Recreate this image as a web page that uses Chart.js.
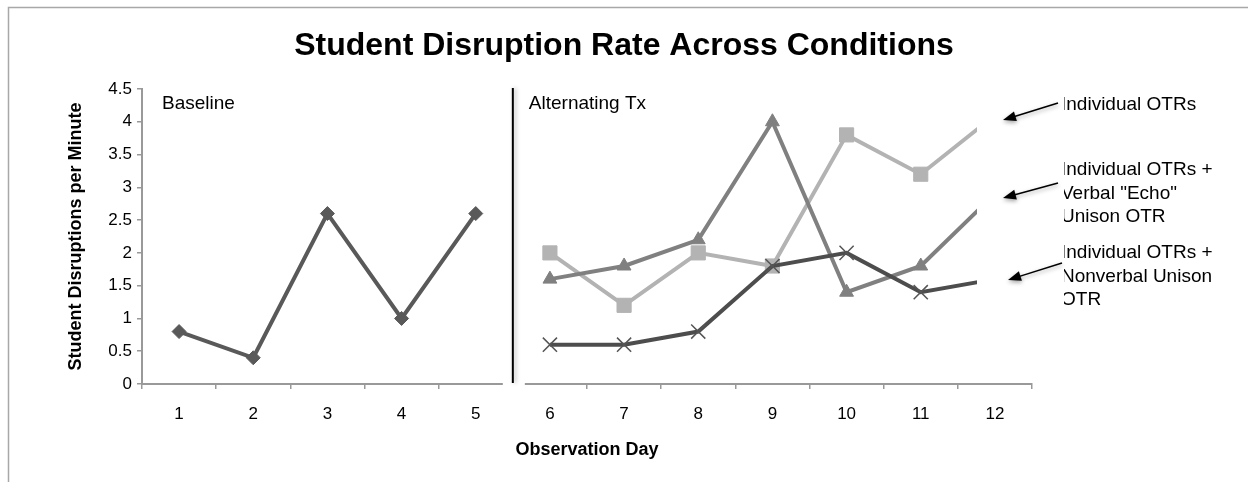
<!DOCTYPE html>
<html>
<head>
<meta charset="utf-8">
<script src="https://cdn.jsdelivr.net/npm/chart.js@4.4.1/dist/chart.umd.min.js"></script>
<style>
    html, body { margin: 0; padding: 0; background: #ffffff; }
    #wrap { width: 1248px; height: 482px; position: relative; }
</style>
</head>
<body>
<div id="wrap"><canvas id="chart"></canvas></div>
<script>
// ===============================
// Data
// ===============================
const days = ["1", "2", "3", "4", "5", "6", "7", "8", "9", "10", "11", "12"];

const baseline      = [0.8, 0.4, 2.6, 1.0, 2.6, null, null, null, null, null, null, null];
const individualOtr = [null, null, null, null, null, 2.0, 1.2, 2.0, 1.8, 3.8, 3.2, 4.1];
const verbalEcho    = [null, null, null, null, null, 1.6, 1.8, 2.2, 4.0, 1.4, 1.8, 2.9];
const nonverbal     = [null, null, null, null, null, 0.6, 0.6, 0.8, 1.8, 2.0, 1.4, 1.6];

const phaseLabels = ["Baseline", "Alternating Tx"];

const seriesNotes = [
    ["Individual OTRs"],
    ["Individual OTRs +", "Verbal \"Echo\"", "Unison OTR"],
    ["Individual OTRs +", "Nonverbal Unison", "OTR"]
];

const FONT = "'Liberation Sans', Arial, Helvetica, sans-serif";

// ===============================
// Phase line, text boxes, arrows
// ===============================
function drawArrow(ctx, x1, y1, x2, y2) {
    const ang = Math.atan2(y2 - y1, x2 - x1);
    const head = 13;
    ctx.save();
    ctx.shadowColor = "rgba(0,0,0,0.35)";
    ctx.shadowBlur = 4;
    ctx.shadowOffsetY = 2;
    ctx.strokeStyle = "#000";
    ctx.fillStyle = "#000";
    ctx.lineWidth = 1.5;
    ctx.beginPath();
    ctx.moveTo(x1, y1);
    ctx.lineTo(x2 - Math.cos(ang) * head * 0.8, y2 - Math.sin(ang) * head * 0.8);
    ctx.stroke();
    ctx.beginPath();
    ctx.moveTo(x2, y2);
    ctx.lineTo(x2 - Math.cos(ang) * head + Math.sin(ang) * 5, y2 - Math.sin(ang) * head - Math.cos(ang) * 5);
    ctx.lineTo(x2 - Math.cos(ang) * head - Math.sin(ang) * 5, y2 - Math.sin(ang) * head + Math.cos(ang) * 5);
    ctx.closePath();
    ctx.fill();
    ctx.restore();
}

const overlay = {
    id: "overlay",
    afterDatasetsDraw(chart) {
        const { ctx, chartArea, scales } = chart;
        const x = scales.x;
        const y = scales.y;
        const phaseX = (x.getPixelForValue(4) + x.getPixelForValue(5)) / 2;

        ctx.save();

        // white text boxes on the right hide the ends of the lines
        ctx.fillStyle = "#ffffff";
        ctx.fillRect(chartArea.right - 55, chartArea.top - 2, 1248, 222);

        // gap in the x axis around the phase line
        ctx.fillRect(phaseX - 10, chartArea.bottom - 4, 22, 12);

        // phase change line
        ctx.save();
        ctx.shadowColor = "rgba(0,0,0,0.3)";
        ctx.shadowBlur = 4;
        ctx.shadowOffsetX = 2;
        ctx.strokeStyle = "#000";
        ctx.lineWidth = 2;
        ctx.beginPath();
        ctx.moveTo(phaseX, chartArea.top - 1);
        ctx.lineTo(phaseX, chartArea.bottom - 1);
        ctx.stroke();
        ctx.restore();

        // phase labels
        ctx.fillStyle = "#000";
        ctx.font = "19px " + FONT;
        ctx.textBaseline = "middle";
        ctx.textAlign = "left";
        ctx.fillText(phaseLabels[0], chartArea.left + 20, y.getPixelForValue(4.27));
        ctx.fillText(phaseLabels[1], phaseX + 16, y.getPixelForValue(4.27));

        // series notes (text boxes clipped on their left edge)
        const noteTops = [105, 170, 253];
        ctx.save();
        ctx.beginPath();
        ctx.rect(1064, 0, 1248, 482);
        ctx.clip();
        seriesNotes.forEach((lines, i) => {
            lines.forEach((line, j) => {
                ctx.fillText(line, 1061, noteTops[i] + j * 23.5);
            });
        });
        ctx.restore();

        drawArrow(ctx, 1058, 103, 1003, 120);
        drawArrow(ctx, 1058, 183, 1003, 198);
        drawArrow(ctx, 1062, 263, 1008, 280);

        // outer frame
        ctx.strokeStyle = "#a8a8a8";
        ctx.lineWidth = 1.5;
        ctx.beginPath();
        ctx.moveTo(8.5, 482);
        ctx.lineTo(8.5, 7.5);
        ctx.lineTo(1248, 7.5);
        ctx.stroke();

        ctx.restore();
    }
};

// ===============================
// Render chart
// ===============================
new Chart(document.getElementById("chart"), {
    type: "line",
    data: {
        labels: days,
        datasets: [
            {
                label: "Nonverbal Unison",
                data: nonverbal,
                borderColor: "#4d4d4d",
                backgroundColor: "#4d4d4d",
                borderWidth: 4,
                pointStyle: "crossRot",
                pointRadius: 10,
                pointBorderWidth: 1.5,
                pointBorderColor: "#555555",
                order: 1
            },
            {
                label: "Verbal Echo",
                data: verbalEcho,
                borderColor: "#808080",
                backgroundColor: "#808080",
                borderWidth: 4,
                pointStyle: "triangle",
                pointRadius: 8,
                pointBorderWidth: 1,
                order: 2
            },
            {
                label: "Individual OTRs",
                data: individualOtr,
                borderColor: "#b3b3b3",
                backgroundColor: "#b3b3b3",
                borderWidth: 4,
                pointStyle: "rect",
                pointRadius: 10,
                pointBorderWidth: 1,
                order: 3
            },
            {
                label: "Baseline",
                data: baseline,
                borderColor: "#595959",
                backgroundColor: "#595959",
                borderWidth: 4,
                pointStyle: "rectRot",
                pointRadius: 7,
                pointBorderWidth: 1,
                order: 4
            }
        ]
    },
    options: {
        responsive: true,
        maintainAspectRatio: false,
        animation: false,
        events: [],
        layout: { padding: { left: 0, right: 0, top: 0, bottom: 0 } },
        plugins: {
            legend: { display: false },
            tooltip: { enabled: false },
            title: {
                display: true,
                text: "Student Disruption Rate Across Conditions",
                color: "#000",
                font: { family: FONT, size: 32, weight: "bold", lineHeight: 1.2 },
                padding: { top: 27, bottom: 23.6 }
            }
        },
        scales: {
            x: {
                type: "category",
                offset: true,
                afterFit: s => { s.height = 98; },
                grid: { offset: true, drawOnChartArea: false, tickLength: 5, color: "#999999", lineWidth: 1.5 },
                border: { color: "#999999", width: 2 },
                ticks: { color: "#000", padding: 15, font: { family: FONT, size: 17 } },
                title: {
                    display: true,
                    text: "Observation Day",
                    color: "#000",
                    font: { family: FONT, size: 18, weight: "bold", lineHeight: 1.2 },
                    padding: { top: 0, bottom: 21 }
                }
            },
            y: {
                min: 0,
                max: 4.5,
                afterFit: s => { s.width = 142; },
                grid: { drawOnChartArea: false, tickLength: 5, color: "#999999", lineWidth: 1.5 },
                border: { color: "#999999", width: 2 },
                ticks: {
                    stepSize: 0.5,
                    color: "#000",
                    padding: 5,
                    font: { family: FONT, size: 17 },
                    callback: v => String(v)
                },
                title: {
                    display: true,
                    text: "Student Disruptions per Minute",
                    color: "#000",
                    font: { family: FONT, size: 18, weight: "bold", lineHeight: 1.2 },
                    padding: { top: 65, bottom: 0 }
                }
            },
            notes: {
                position: "right",
                type: "linear",
                afterFit: s => { s.width = 216; },
                grid: { display: false },
                border: { display: false },
                ticks: { display: false }
            }
        }
    },
    plugins: [overlay]
});
</script>
</body>
</html>
